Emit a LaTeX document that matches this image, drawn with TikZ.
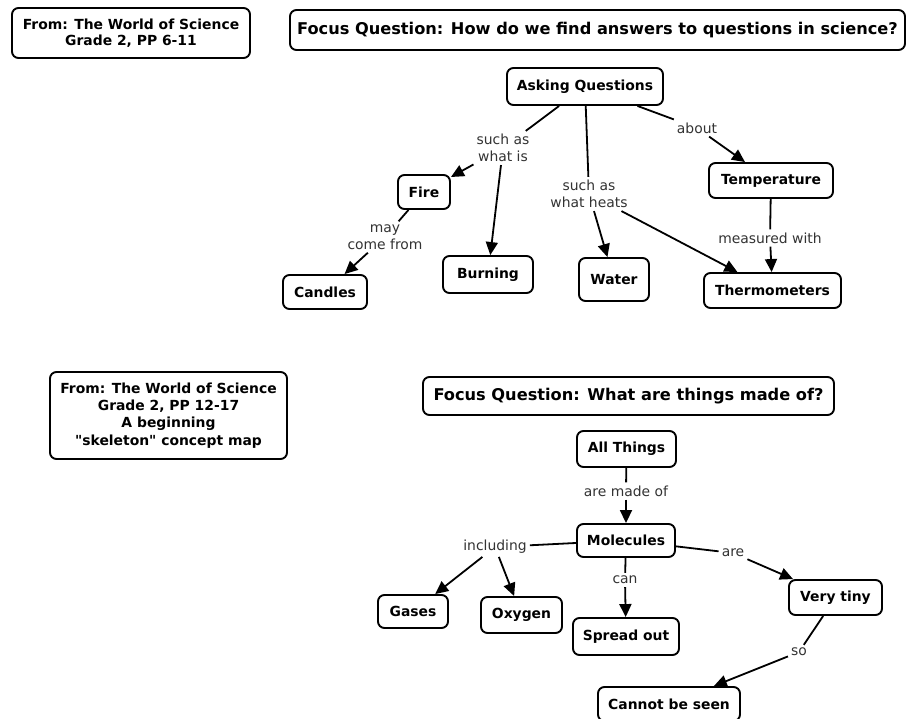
\documentclass[tikz,border=0pt]{standalone}
\usepackage{fontspec}
\setmainfont{DejaVu Sans}[Ligatures=TeXOff]
\usetikzlibrary{arrows.meta}
\begin{document}
\begin{tikzpicture}[x=1pt,y=-1pt,
  box/.style={draw, rounded corners=6.5pt, line width=1.9pt, fill=white,
    font=\fontsize{13.9}{16}\selectfont\bfseries, align=center, inner sep=0pt, minimum height=35pt},
  focus/.style={box, font=\fontsize{16.2}{18}\selectfont\bfseries},
  lbl/.style={font=\fontsize{13.9}{17}\selectfont, align=center, inner sep=3pt, text=black!80},
  conn/.style={line width=1.8pt},
  arr/.style={line width=1.8pt, -{Triangle[length=13pt,width=12pt]}}]
\fill[white] (0,0) rectangle (910,718);
\useasboundingbox (0,0) rectangle (910,718);
\clip (0,0) rectangle (910,718);

% ---------- upper map ----------
\node[box, minimum width=238pt, minimum height=50pt] (from1) at (131,33) {From: The World of Science\\Grade 2, PP 6-11};
\node[focus, minimum width=615pt, minimum height=40pt] (focus1) at (597.5,30) {Focus Question: How do we find answers to questions in science?};

\node[box, minimum width=156pt, minimum height=37pt] (asking) at (585,86.5) {Asking Questions};
\node[box, minimum width=52pt, minimum height=34pt] (fire) at (424,192) {Fire};
\node[box, minimum width=84pt, minimum height=34pt] (candles) at (325,292) {Candles};
\node[box, minimum width=90pt, minimum height=37pt] (burning) at (488,274.5) {Burning};
\node[box, minimum width=70pt, minimum height=43pt] (water) at (614,279.5) {Water};
\node[box, minimum width=124pt, minimum height=35pt] (temp) at (771,180.5) {Temperature};
\node[box, minimum width=137pt, minimum height=35pt] (thermo) at (772.5,290.5) {Thermometers};

\node[lbl] (l1) at (503,148) {such as\\what is};
\node[lbl] (l2) at (589,194) {such as\\what heats};
\node[lbl] (l3) at (697,128) {about};
\node[lbl] (l4) at (770,238) {measured with};
\node[lbl] (l5) at (385,237) {may\\come from};

\draw[conn] (asking) -- (l1);
\draw[arr] (l1) -- (fire);
\draw[arr] (l1) -- (burning);
\draw[conn] (asking) -- (l2);
\draw[arr] (l2) -- (water);
\draw[arr] (l2) -- (thermo);
\draw[conn] (asking) -- (l3);
\draw[arr] (l3) -- (temp);
\draw[conn] (temp) -- (l4);
\draw[arr] (l4) -- (thermo);
\draw[conn] (fire) -- (l5);
\draw[arr] (l5) -- (candles);

% ---------- lower map ----------
\node[box, minimum width=237pt, minimum height=87pt, font=\fontsize{13.9}{17.3}\selectfont\bfseries] (from2) at (168.5,415.5)
  {From: The World of Science\\Grade 2, PP 12-17\\A beginning\\"skeleton" concept map};
\node[focus, minimum width=411pt, minimum height=38pt] (focus2) at (628.5,396) {Focus Question: What are things made of?};

\node[box, minimum width=99pt, minimum height=36pt] (all) at (626.5,449) {All Things};
\node[box, minimum width=98pt, minimum height=33pt] (mol) at (626,540.5) {Molecules};
\node[box, minimum width=70pt, minimum height=33pt] (gases) at (413,611.5) {Gases};
\node[box, minimum width=81pt, minimum height=36pt] (oxygen) at (521.5,615) {Oxygen};
\node[box, minimum width=106pt, minimum height=37pt] (spread) at (626,636.5) {Spread out};
\node[box, minimum width=93pt, minimum height=35pt] (tiny) at (835.5,597.5) {Very tiny};
\node[box, minimum width=142pt, minimum height=34pt] (cannot) at (669,704) {Cannot be seen};

\node[lbl] (m1) at (626,491) {are made of};
\node[lbl] (m2) at (495,547) {including};
\node[lbl] (m3) at (625,580) {can};
\node[lbl] (m4) at (733,553) {are};
\node[lbl] (m5) at (799,652) {so};

\draw[conn] (all) -- (m1);
\draw[arr] (m1) -- (mol);
\draw[conn] (mol) -- (m2);
\draw[arr] (m2) -- (gases);
\draw[arr] (m2) -- (oxygen);
\draw[conn] (mol) -- (m3);
\draw[arr] (m3) -- (spread);
\draw[conn] (mol) -- (m4);
\draw[arr] (m4) -- (tiny);
\draw[conn] (tiny) -- (m5);
\draw[arr] (m5) -- (cannot);
\end{tikzpicture}
\end{document}
